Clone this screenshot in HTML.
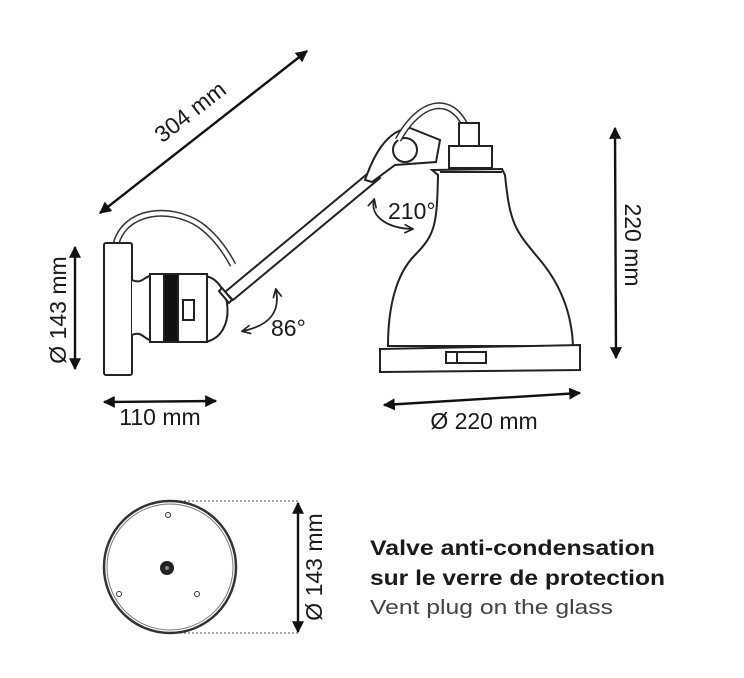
<!DOCTYPE html>
<html><head><meta charset="utf-8"><style>
html,body{margin:0;padding:0;background:#fff}
svg{display:block}
text{font-family:"Liberation Sans Narrow","Liberation Sans",sans-serif;fill:#1a1a1a}
</style></head><body>
<svg width="744" height="678" viewBox="0 0 744 678" xmlns="http://www.w3.org/2000/svg">
<defs>
<marker id="ah" viewBox="0 0 10 10" refX="9" refY="5" markerWidth="5" markerHeight="5" orient="auto-start-reverse"><path d="M0,0 L10,5 L0,10 z" fill="#111"/></marker>
<marker id="oh" viewBox="0 0 10 10" refX="8" refY="5" markerWidth="6" markerHeight="6" orient="auto-start-reverse"><path d="M1,1 L9,5 L1,9" fill="none" stroke="#222" stroke-width="1.5"/></marker>
</defs>
<g stroke="#111" stroke-width="2.4" fill="none">
<line x1="100" y1="213" x2="307" y2="51" marker-start="url(#ah)" marker-end="url(#ah)"/>
<line x1="75" y1="247" x2="75" y2="369" marker-start="url(#ah)" marker-end="url(#ah)"/>
<line x1="104" y1="402" x2="216" y2="401" marker-start="url(#ah)" marker-end="url(#ah)"/>
<line x1="384" y1="405" x2="580" y2="393" marker-start="url(#ah)" marker-end="url(#ah)"/>
<line x1="615" y1="128" x2="616" y2="358" marker-start="url(#ah)" marker-end="url(#ah)"/>
<line x1="298" y1="503" x2="298" y2="632" marker-start="url(#ah)" marker-end="url(#ah)"/>
</g>
<g stroke="#222" stroke-width="2" fill="#fff">
<path d="M116,244 C125,210 170,205 200,225 C215,236 225,250 233,265" fill="none" stroke-width="7" stroke="#333"/>
<path d="M116,244 C125,210 170,205 200,225 C215,236 225,250 233,265" fill="none" stroke-width="4" stroke="#fff"/>
<path d="M225,292 L372,170 L380,178 L233,300 Z"/>
<rect x="104" y="243" width="28" height="132" rx="2"/>
<path d="M132,280 C142,285 145,275 152,276 L152,340 C145,341 142,330 132,335"/>
<path d="M205,276 C232,280 238,336 205,342 Z"/>
<rect x="150" y="274" width="57" height="68"/>
<rect x="164" y="274" width="14" height="68" fill="#111"/>
<rect x="183" y="300" width="11" height="20"/>
<path d="M222,288 L232,300 L229,303 L219,291 Z"/>
<path d="M365,180 C372,160 385,130 410,128 L440,140 L436,162 L395,165 L372,182 Z"/>
<ellipse cx="405" cy="150" rx="12" ry="12"/>
<path d="M398,140 C420,100 450,95 465,125" fill="none" stroke-width="7" stroke="#333"/>
<path d="M398,140 C420,100 450,95 465,125" fill="none" stroke-width="4" stroke="#fff"/>
<rect x="459" y="123" width="20" height="23"/>
<rect x="449" y="146" width="43" height="22"/>
<path d="M432,170 L502,169 L505,175 C510,225 515,230 540,260 C565,290 572,320 573,346 L388,346 C388,310 395,275 415,255 C435,235 437,225 438,175 Z"/>
<line x1="440" y1="172" x2="502" y2="172"/>
<path d="M380,349 L580,345 L580,370 L380,372 Z"/>
<rect x="446" y="352" width="40" height="11"/>
<line x1="457" y1="352" x2="457" y2="363"/>
</g>
<g stroke="#222" stroke-width="1.8" fill="none">
<path d="M374,200 C370,215 385,228 412,229" marker-start="url(#oh)" marker-end="url(#oh)"/>
<path d="M276,290 C280,310 272,325 243,331" marker-start="url(#oh)" marker-end="url(#oh)"/>
</g>
<text x="388" y="219" font-size="23">210°</text>
<text x="271" y="336" font-size="23">86°</text>
<text transform="translate(195,118) rotate(-38)" font-size="23" text-anchor="middle">304 mm</text>
<text transform="translate(66,310) rotate(-90)" font-size="23" text-anchor="middle">Ø 143 mm</text>
<text x="160" y="425" font-size="23" text-anchor="middle">110 mm</text>
<text x="484" y="429" font-size="23" text-anchor="middle">Ø 220 mm</text>
<text transform="translate(625,245) rotate(90)" font-size="23" text-anchor="middle">220 mm</text>
<g stroke="#555" stroke-width="1" stroke-dasharray="2,2">
<line x1="168" y1="501" x2="298" y2="501"/>
<line x1="168" y1="633" x2="298" y2="633"/>
</g>
<ellipse cx="170" cy="567" rx="66" ry="66" fill="none" stroke="#333" stroke-width="2.5"/>
<ellipse cx="170" cy="567" rx="63" ry="63" fill="none" stroke="#777" stroke-width="1"/>
<circle cx="168" cy="515" r="2.5" fill="none" stroke="#333"/>
<circle cx="119" cy="594" r="2.5" fill="none" stroke="#333"/>
<circle cx="197" cy="594" r="2.5" fill="none" stroke="#333"/>
<circle cx="167" cy="568" r="7" fill="#222"/>
<circle cx="167" cy="568" r="2" fill="#888"/>
<text transform="translate(322,567) rotate(-90)" font-size="23" text-anchor="middle">Ø 143 mm</text>
<text x="370" y="555" font-size="21" font-weight="bold" textLength="285" lengthAdjust="spacingAndGlyphs">Valve anti-condensation</text>
<text x="370" y="585" font-size="21" font-weight="bold" textLength="295" lengthAdjust="spacingAndGlyphs">sur le verre de protection</text>
<text x="370" y="614" font-size="20" textLength="243" lengthAdjust="spacingAndGlyphs" style="fill:#444">Vent plug on the glass</text>
</svg>
</body></html>
